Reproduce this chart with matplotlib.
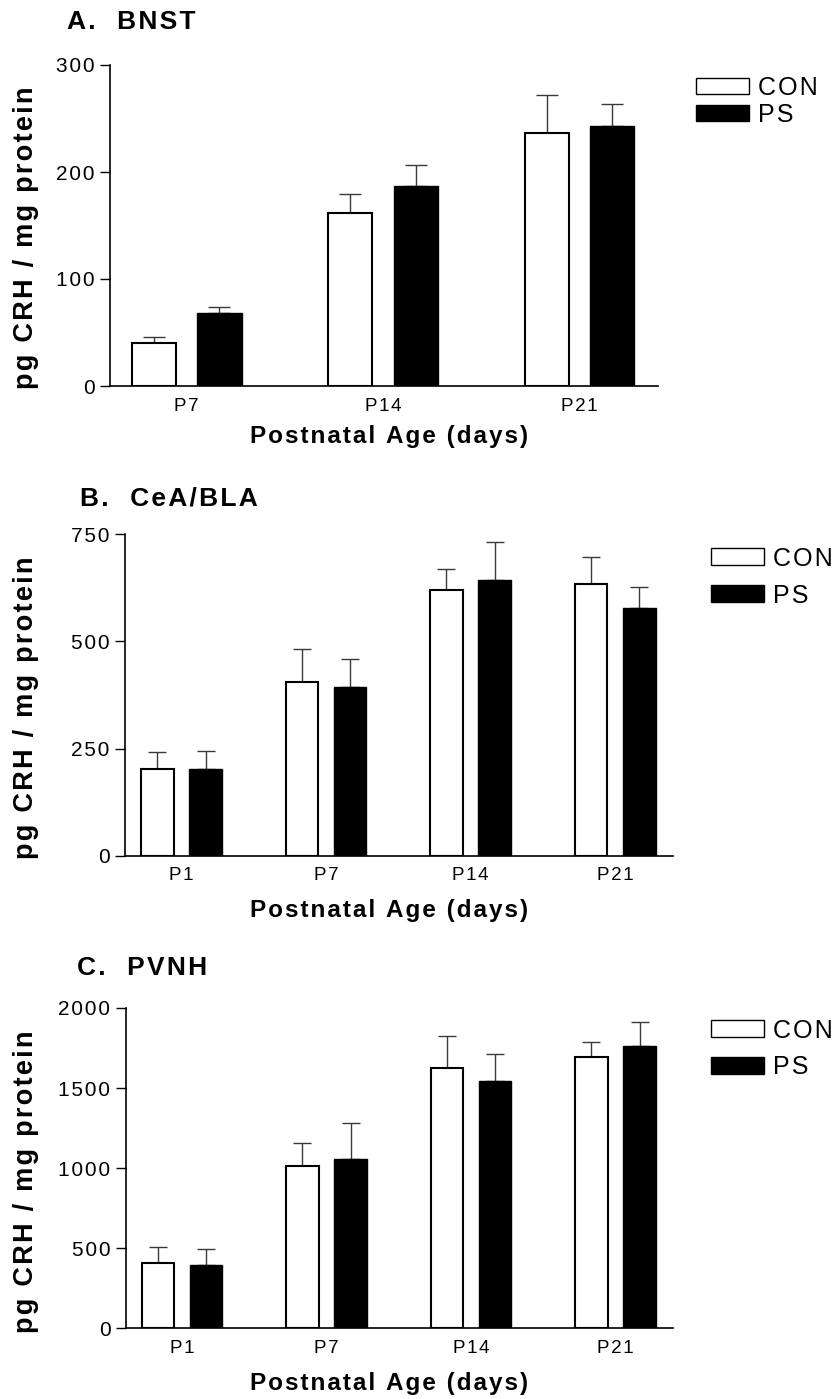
import numpy as np
import matplotlib.pyplot as plt
from matplotlib.patches import Patch

plt.rcParams['font.family'] = ['Liberation Sans', 'DejaVu Sans']

# CRH content (pg / mg protein), mean and SEM per group
bnst_ages = ['P7', 'P14', 'P21']
bnst_con = [40, 162, 236]
bnst_con_sem = [6, 17, 36]
bnst_ps = [68, 187, 243]
bnst_ps_sem = [6, 20, 21]

amyg_ages = ['P1', 'P7', 'P14', 'P21']
amyg_con = [203, 406, 619, 635]
amyg_con_sem = [39, 76, 50, 61]
amyg_ps = [202, 394, 644, 577]
amyg_ps_sem = [42, 66, 88, 49]

pvnh_ages = ['P1', 'P7', 'P14', 'P21']
pvnh_con = [410, 1015, 1627, 1697]
pvnh_con_sem = [98, 142, 200, 92]
pvnh_ps = [395, 1059, 1543, 1762]
pvnh_ps_sem = [98, 221, 167, 150]

W, H = 837, 1399
fig = plt.figure(figsize=(W / 100, H / 100), dpi=100, facecolor='white')


def px_rect(x, y, w, h):
    # pixel box (top-left origin) -> figure fraction
    return [x / W, 1 - (y + h) / H, w / W, h / H]


def fig_xy(x, y):
    return x / W, 1 - y / H


def spaced(s):
    # loose letter spacing, as in the printed figure
    return '\u200a'.join(s)


def draw_panel(rect, ages, con, con_sem, ps, ps_sem, yticks, capsize,
               title, title_xy, xlabel_y, ylabel_y, legend_xy, legend_gap):
    ax = fig.add_axes(px_rect(*rect))
    x = np.arange(len(ages))
    off = 0.167
    width = 0.225
    ax.errorbar(x - off, con, yerr=[np.zeros(len(con)), con_sem], fmt='none',
                ecolor='#3a3a3a', elinewidth=1.0, capsize=capsize, capthick=1.0, zorder=1)
    ax.errorbar(x + off, ps, yerr=[np.zeros(len(ps)), ps_sem], fmt='none',
                ecolor='#3a3a3a', elinewidth=1.0, capsize=capsize, capthick=1.0, zorder=1)
    ax.bar(x - off, con, width, color='white', edgecolor='black', linewidth=1.5, zorder=2)
    ax.bar(x + off, ps, width, color='black', edgecolor='black', linewidth=1.0, zorder=2)

    ax.set_xlim(-0.39, len(ages) - 1 + 0.40)
    ax.set_ylim(0, yticks[-1])
    ax.set_yticks(yticks)
    ax.set_yticklabels([spaced(str(t)) for t in yticks])
    ax.set_xticks(x)
    ax.set_xticklabels([spaced(a) for a in ages])
    for s in ['top', 'right']:
        ax.spines[s].set_visible(False)
    for s in ['left', 'bottom']:
        ax.spines[s].set_linewidth(1.2)
        ax.spines[s].set_zorder(3)
    ax.tick_params(axis='y', length=7.5, width=1.0, direction='out', labelsize=15, pad=3.5)
    ax.tick_params(axis='x', length=0, labelsize=13.5, pad=8.4)

    fig.text(*fig_xy(*title_xy), spaced(title), fontsize=19, fontweight='bold',
             ha='left', va='baseline')
    fig.text(*fig_xy(389, xlabel_y), spaced('Postnatal Age (days)'), fontsize=17.5,
             fontweight='bold', ha='center', va='baseline')
    fig.text(*fig_xy(26, ylabel_y), spaced('pg CRH / mg protein'), fontsize=19.5,
             fontweight='bold', rotation=90, ha='center', va='center')

    handles = [Patch(facecolor='white', edgecolor='black', linewidth=1.0),
               Patch(facecolor='black', edgecolor='black', linewidth=1.0)]
    ax.legend(handles, [spaced('CON'), spaced('PS')], loc='upper left',
              bbox_to_anchor=fig_xy(*legend_xy), bbox_transform=fig.transFigure,
              frameon=False, fontsize=18, borderpad=0, borderaxespad=0,
              handlelength=2.12, handleheight=0.64, handletextpad=0.36,
              labelspacing=legend_gap)
    return ax


draw_panel((110, 65, 548, 321), bnst_ages, bnst_con, bnst_con_sem, bnst_ps, bnst_ps_sem,
           [0, 100, 200, 300], 7.8, 'A.  BNST', (66.7, 29), 443, 238, (696, 76), 0.12)
draw_panel((125, 534.3, 548, 321.4), amyg_ages, amyg_con, amyg_con_sem, amyg_ps, amyg_ps_sem,
           [0, 250, 500, 750], 6.2, 'B.  CeA/BLA', (80, 505), 917, 708, (711, 546.5), 0.52)
draw_panel((125.7, 1008, 547.6, 320.3), pvnh_ages, pvnh_con, pvnh_con_sem, pvnh_ps, pvnh_ps_sem,
           [0, 500, 1000, 1500, 2000], 6.2, 'C.  PVNH', (77.3, 975), 1390, 1182, (711, 1018.5), 0.52)

fig.savefig('out.png', dpi=100, facecolor='white')
